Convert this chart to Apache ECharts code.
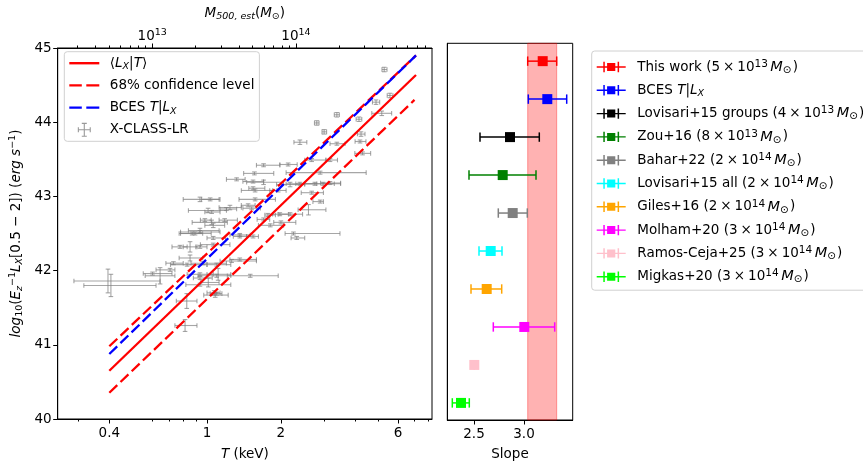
<!DOCTYPE html>
<html>
<head>
<meta charset="utf-8">
<script src="https://cdn.jsdelivr.net/npm/echarts@6/dist/echarts.min.js"></script>
<style>
html, body { margin: 0; padding: 0; background: #fff; }
#main { width: 863px; height: 468px; }
</style>
</head>
<body>
<div id="main"></div>
<script>
// X-CLASS-LR clusters: T (keV), lower / upper T bound, log10 L, error on log10 L
var clT   = [5.27, 5.56, 4.88, 5.15, 3.38, 4.16, 2.80, 3.00, 4.24, 2.39, 3.38, 4.20, 4.30, 2.67, 3.17,
             1.70, 2.14, 1.56, 1.32, 1.70, 1.54, 2.18, 2.75, 2.97, 2.39, 3.17, 1.57, 1.95, 2.67, 2.89,
             1.57, 2.59, 1.98, 2.89, 1.045, 1.24, 2.18, 1.06, 1.81, 2.00, 1.36, 2.32, 2.25, 1.26, 1.11,
             1.50, 1.08, 0.936, 1.03, 1.01, 1.20, 1.045, 1.18, 0.936, 0.894, 0.936, 1.06, 1.36, 0.853, 1.06,
             0.73, 0.83, 0.963, 1.36, 0.853, 0.644, 0.936, 1.095, 0.60, 1.012, 1.095, 1.07, 0.827, 0.814, 0.395,
             0.406, 0.707, 0.776, 0.87, 1.54, 1.77, 0.98, 1.47, 1.54, 0.936, 1.095, 0.936, 0.936, 1.70, 1.52];
var clTlo = [5.16, 5.42, 4.72, 4.69, 3.30, 4.05, 2.74, 2.94, 4.10, 2.26, 3.17, 4.01, 4.00, 2.50, 3.05,
             1.59, 1.98, 1.41, 1.20, 1.45, 1.40, 1.92, 2.30, 2.50, 2.10, 2.90, 1.38, 1.80, 2.42, 2.70,
             1.35, 2.35, 1.85, 2.10, 0.98, 1.12, 1.95, 0.98, 1.62, 1.87, 1.24, 2.20, 2.08, 1.13, 1.00,
             1.21, 0.97, 0.80, 0.95, 0.84, 1.13, 0.87, 1.12, 0.84, 0.77, 0.78, 1.00, 1.28, 0.80, 0.94,
             0.68, 0.71, 0.86, 1.24, 0.77, 0.56, 0.83, 0.92, 0.55, 0.94, 1.03, 1.00, 0.75, 0.74, 0.287,
             0.315, 0.62, 0.72, 0.78, 1.48, 1.72, 0.94, 1.38, 1.45, 0.90, 1.00, 0.88, 0.82, 1.60, 1.40];
var clThi = [5.41, 5.72, 5.05, 5.65, 3.46, 4.27, 2.86, 3.07, 4.40, 2.55, 3.65, 4.44, 4.64, 3.05, 3.40,
             1.98, 2.33, 1.87, 1.43, 2.05, 1.70, 2.50, 3.30, 3.50, 2.80, 3.50, 1.85, 2.10, 2.98, 2.98,
             1.90, 3.05, 2.15, 4.45, 1.13, 1.38, 2.45, 1.18, 2.05, 2.30, 1.50, 2.50, 3.48, 1.59, 1.25,
             1.95, 1.22, 1.13, 1.12, 1.20, 1.32, 1.21, 1.33, 1.12, 1.04, 1.13, 1.19, 1.45, 0.91, 1.24,
             0.80, 1.00, 1.20, 1.59, 0.96, 0.74, 1.06, 1.25, 0.72, 1.12, 1.15, 1.13, 0.91, 0.91, 0.644,
             0.62, 0.74, 0.83, 0.96, 1.72, 1.90, 1.04, 1.57, 1.62, 1.00, 1.25, 1.05, 1.25, 1.80, 1.65];
var clL   = [44.71, 44.36, 44.27, 44.12, 44.10, 44.04, 43.99, 43.87, 43.84, 43.73, 43.71, 43.74, 43.58, 43.49, 43.49,
             43.42, 43.43, 43.31, 43.23, 43.19, 43.20, 43.16, 43.17, 43.17, 43.17, 43.18, 43.08, 43.08, 43.05, 42.93,
             42.96, 42.82, 42.76, 43.32, 42.79, 42.85, 42.76, 42.61, 42.61, 42.65, 42.48, 42.44, 42.50, 42.13, 41.95,
             41.93, 41.67, 42.96, 42.96, 42.81, 42.83, 42.65, 42.68, 42.54, 42.50, 42.52, 42.44, 42.46, 42.32, 42.35,
             42.10, 42.08, 42.10, 42.15, 42.17, 41.93, 41.95, 41.93, 41.96, 41.84, 41.69, 41.70, 41.59, 41.26, 41.86,
             41.80, 42.01, 42.32, 42.50, 43.11, 42.75, 42.68, 42.88, 42.46, 42.32, 42.08, 41.90, 41.81, 42.69, 42.84];
var clLerr= [0.03, 0.03, 0.03, 0.03, 0.03, 0.03, 0.03, 0.03, 0.03, 0.03, 0.02, 0.02, 0.02, 0.02, 0.02,
             0.02, 0.02, 0.02, 0.02, 0.03, 0.02, 0.03, 0.02, 0.02, 0.02, 0.02, 0.02, 0.02, 0.02, 0.02,
             0.02, 0.07, 0.02, 0.02, 0.02, 0.03, 0.02, 0.03, 0.02, 0.02, 0.02, 0.02, 0.02, 0.02, 0.08,
             0.02, 0.03, 0.03, 0.02, 0.03, 0.02, 0.03, 0.02, 0.03, 0.02, 0.02, 0.02, 0.02, 0.07, 0.02,
             0.02, 0.02, 0.02, 0.02, 0.04, 0.11, 0.02, 0.02, 0.02, 0.06, 0.02, 0.03, 0.10, 0.08, 0.16,
             0.15, 0.02, 0.02, 0.02, 0.02, 0.02, 0.02, 0.02, 0.02, 0.02, 0.02, 0.02, 0.02, 0.02, 0.02];

// fitted relations (end points in T, log10 L)
var fitT  = [0.4, 7.1];   var fitL  = [40.65, 44.636];
var upT   = [0.4, 7.1];   var upL   = [40.98, 44.90];
var lowT  = [0.4, 7.0];   var lowL  = [40.354, 44.30];
var bcesT = [0.4, 7.1];   var bcesL = [40.876, 44.90];

// slope comparison
var slopeNames  = ['This work', 'BCES', 'Lovisari+15 groups', 'Zou+16', 'Bahar+22', 'Lovisari+15 all',
                   'Giles+16', 'Molham+20', 'Ramos-Ceja+25', 'Migkas+20'];
var slopeMant   = [5, 0, 4, 8, 2, 2, 2, 3, 3, 3];
var slopeExp    = [13, 0, 13, 13, 14, 14, 14, 14, 14, 14];
var slopeVal    = [3.187, 3.233, 2.86, 2.787, 2.887, 2.667, 2.627, 3.003, 2.503, 2.37];
var slopeLo     = [3.037, 3.043, 2.56, 2.45, 2.743, 2.55, 2.47, 2.693, 2.503, 2.283];
var slopeHi     = [3.327, 3.427, 3.153, 3.12, 3.033, 2.78, 2.777, 3.307, 2.503, 2.453];
var slopeColors = ['#ff0000', '#0000ff', '#000000', '#008000', '#808080', '#00ffff',
                   '#ffa500', '#ff00ff', '#ffc0cb', '#00ff00'];

// axes
var tRange     = [0.2465, 8.25];
var tTicks     = [0.4, 1, 2, 6];
var tMinor     = [0.3, 0.6, 0.7, 0.8, 0.9, 3, 4, 5, 7, 8];
var mRange     = [2.198e12, 8.85e14];
var mTicks     = [1e13, 1e14];
var mMinor     = [3e12, 4e12, 5e12, 6e12, 7e12, 8e12, 9e12, 2e13, 3e13, 4e13, 5e13, 6e13, 7e13, 8e13, 9e13,
                  2e14, 3e14, 4e14, 5e14, 6e14, 7e14, 8e14];
var slopeRange = [2.233, 3.487];
var slopeTicks = [2.5, 3.0];

var FONT = 'DejaVu Sans';
var FS = 13.5;
var lg = function (v) { return Math.log10(v); };

var rich = {
  i:    { fontFamily: FONT, fontSize: FS, fontStyle: 'italic', lineHeight: 17, color: '#000' },
  mi:   { fontFamily: FONT, fontSize: 14.5, fontStyle: 'italic', lineHeight: 17, color: '#000', padding: [0, 0, 0, 1.5] },
  op:   { fontFamily: FONT, fontSize: FS, lineHeight: 17, color: '#000', padding: [0, 3, 0, 3] },
  sub:  { fontFamily: FONT, fontSize: 9.5, fontStyle: 'italic', verticalAlign: 'bottom', lineHeight: 10, color: '#000' },
  subn: { fontFamily: FONT, fontSize: 9.5, verticalAlign: 'bottom', lineHeight: 10, color: '#000' },
  subo: { fontFamily: FONT, fontSize: 10.5, verticalAlign: 'bottom', lineHeight: 10, color: '#000', padding: [0, 1, 0, 0] },
  sup:  { fontFamily: FONT, fontSize: 9.5, verticalAlign: 'top', lineHeight: 10, color: '#000' },
  supl: { fontFamily: FONT, fontSize: 10.5, verticalAlign: 'top', lineHeight: 10, color: '#000', padding: [0, 1, 0, 0] }
};

var myChart = echarts.init(document.getElementById('main'), null, { renderer: 'canvas' });

function clusterItem(params, api) {
  var l = api.value(3), e = api.value(4);
  var c = api.coord([api.value(0), l]);
  var a = api.coord([api.value(1), l]);
  var b = api.coord([api.value(2), l]);
  var top = api.coord([api.value(0), l + e]);
  var bot = api.coord([api.value(0), l - e]);
  var st = { stroke: 'rgba(128,128,128,0.7)', lineWidth: 1.1 };
  var k = 2.3;
  return {
    type: 'group',
    children: [
      { type: 'line', shape: { x1: a[0], y1: c[1], x2: b[0], y2: c[1] }, style: st },
      { type: 'line', shape: { x1: a[0], y1: c[1] - k, x2: a[0], y2: c[1] + k }, style: st },
      { type: 'line', shape: { x1: b[0], y1: c[1] - k, x2: b[0], y2: c[1] + k }, style: st },
      { type: 'line', shape: { x1: c[0], y1: top[1], x2: c[0], y2: bot[1] }, style: st },
      { type: 'line', shape: { x1: c[0] - k, y1: top[1], x2: c[0] + k, y2: top[1] }, style: st },
      { type: 'line', shape: { x1: c[0] - k, y1: bot[1], x2: c[0] + k, y2: bot[1] }, style: st }
    ]
  };
}

function slopeItem(params, api) {
  var row = api.value(3);
  var col = api.visual('color');
  var c = api.coord([api.value(0), row]);
  var a = api.coord([api.value(1), row]);
  var b = api.coord([api.value(2), row]);
  var st = { stroke: col, lineWidth: 1.5 };
  var k = 4.7, s = 10;
  return {
    type: 'group',
    children: [
      { type: 'line', shape: { x1: a[0], y1: c[1], x2: b[0], y2: c[1] }, style: st },
      { type: 'line', shape: { x1: a[0], y1: c[1] - k, x2: a[0], y2: c[1] + k }, style: st },
      { type: 'line', shape: { x1: b[0], y1: c[1] - k, x2: b[0], y2: c[1] + k }, style: st },
      { type: 'rect', shape: { x: c[0] - s / 2, y: c[1] - s / 2, width: s, height: s }, style: { fill: col } }
    ]
  };
}

var clusterData = clT.map(function (t, i) {
  return [lg(t), lg(clTlo[i]), lg(clThi[i]), clL[i], clLerr[i]];
});

function linePts(ts, ls) { return ts.map(function (t, i) { return [lg(t), ls[i]]; }); }

var ebIcon    = 'path://M0,5.3H29V6.7H0Z M6.6,0.8H8.1V11.2H6.6Z M20.9,0.8H22.4V11.2H20.9Z M10.4,2H18.6V10H10.4Z';
var crossIcon = 'path://M0,6.45H13V7.55H0Z M0,4.5H1.1V9.5H0Z M11.9,4.5H13V9.5H11.9Z M5.95,0H7.05V14H5.95Z M4,0H9V1.1H4Z M4,12.9H9V14H4Z';
var solidIcon = 'path://M0,0H30V2.4H0Z';
var dashIcon  = 'path://M0,0H12.5V2.4H0Z M17,0H30V2.4H17Z';

var series = [
  {
    name: 'X-CLASS-LR', type: 'custom', xAxisIndex: 0, yAxisIndex: 0,
    renderItem: clusterItem, data: clusterData, clip: true, z: 1,
    itemStyle: { color: 'rgba(128,128,128,0.8)' },
    encode: { x: [0, 1, 2], y: 3 }
  },
  {
    name: '<LX|T>', type: 'line', xAxisIndex: 0, yAxisIndex: 0, data: linePts(fitT, fitL),
    symbol: 'none', z: 4, color: '#ff0000', lineStyle: { color: '#ff0000', width: 2.3 }
  },
  {
    name: '68% confidence level', type: 'line', xAxisIndex: 0, yAxisIndex: 0, data: linePts(upT, upL),
    symbol: 'none', z: 4, color: '#ff0000', lineStyle: { color: '#ff0000', width: 2.3, type: [11, 4.5] }
  },
  {
    name: '68% confidence level', type: 'line', xAxisIndex: 0, yAxisIndex: 0, data: linePts(lowT, lowL),
    symbol: 'none', z: 4, color: '#ff0000', lineStyle: { color: '#ff0000', width: 2.3, type: [11, 4.5] }
  },
  {
    name: 'BCES T|LX', type: 'line', xAxisIndex: 0, yAxisIndex: 0, data: linePts(bcesT, bcesL),
    symbol: 'none', z: 5, color: '#0000ff', lineStyle: { color: '#0000ff', width: 2.3, type: [11, 4.5] }
  },
  {
    name: 'band', type: 'line', xAxisIndex: 4, yAxisIndex: 1, data: [], z: 1,
    markArea: {
      silent: true,
      itemStyle: { color: 'rgba(255,0,0,0.3)', borderColor: 'rgba(255,0,0,0.35)', borderWidth: 1 },
      data: [[{ xAxis: slopeLo[0] }, { xAxis: slopeHi[0] }]]
    }
  }
];

slopeNames.forEach(function (n, i) {
  series.push({
    name: n, type: 'custom', xAxisIndex: 4, yAxisIndex: 1, z: 3,
    renderItem: slopeItem,
    itemStyle: { color: slopeColors[i] },
    data: [[slopeVal[i], slopeLo[i], slopeHi[i], i]],
    encode: { x: [0, 1, 2], y: 3 }
  });
});

function slopeLabel(name) {
  var i = slopeNames.indexOf(name);
  if (name === 'BCES') return 'BCES {i|T}|{i|L}{sub|X}';
  return name + ' (' + slopeMant[i] + '{op|×}10{supl|' + slopeExp[i] + '}{mi|M}{subo|⊙})';
}

function leftLabel(name) {
  if (name === '<LX|T>') return '⟨{i|L}{sub|X}|{i|T}⟩';
  if (name === 'BCES T|LX') return 'BCES {i|T}|{i|L}{sub|X}';
  return name;
}

var axisLineStyle = { onZero: false, lineStyle: { color: '#000', width: 1 } };
var tickLine = { color: '#000', width: 1 };
var labelFont = { fontFamily: FONT, fontSize: FS, color: '#000' };

var option = {
  animation: false,
  backgroundColor: '#fff',
  textStyle: { fontFamily: FONT },
  grid: [
    { left: 57.7, top: 43.3, width: 374.3, height: 376.7, show: true, borderColor: '#000', borderWidth: 1, backgroundColor: 'transparent' },
    { left: 447.3, top: 43.3, width: 125.4, height: 376.7, show: true, borderColor: '#000', borderWidth: 1, backgroundColor: 'transparent' }
  ],
  legend: [
    {
      data: [{ name: '<LX|T>', icon: solidIcon }, { name: '68% confidence level', icon: dashIcon },
             { name: 'BCES T|LX', icon: dashIcon }, { name: 'X-CLASS-LR', icon: crossIcon }],
      orient: 'vertical', left: 64.3, top: 51.7,
      itemWidth: 30, itemHeight: 14, itemGap: 5.2,
      padding: [3, 5, 3, 5],
      backgroundColor: '#fff', borderColor: '#d0d0d0', borderWidth: 1, borderRadius: 3,
      formatter: leftLabel,
      textStyle: Object.assign({ lineHeight: 17, padding: [0, 0, 0, 5.5], rich: rich }, labelFont)
    },
    {
      data: slopeNames.map(function (n) { return { name: n, icon: ebIcon }; }),
      orient: 'vertical', left: 591.7, top: 51,
      itemWidth: 29, itemHeight: 12, itemGap: 6.3,
      padding: [7.5, 8, 5, 5],
      backgroundColor: '#fff', borderColor: '#d0d0d0', borderWidth: 1, borderRadius: 3,
      formatter: slopeLabel,
      textStyle: Object.assign({ lineHeight: 17, padding: [0, 0, 0, 6.6], rich: rich }, labelFont)
    }
  ],
  xAxis: [
    {
      gridIndex: 0, type: 'value', position: 'bottom', min: lg(tRange[0]), max: lg(tRange[1]),
      axisLine: axisLineStyle, splitLine: { show: false },
      axisTick: { show: true, length: 4.5, lineStyle: tickLine, customValues: tTicks.map(lg) },
      axisLabel: Object.assign({
        margin: 7, customValues: tTicks.map(lg),
        formatter: function (v) { return String(+Math.pow(10, v).toFixed(1)); }
      }, labelFont),
      name: '{i|T} (keV)', nameLocation: 'middle', nameGap: 27,
      nameTextStyle: Object.assign({ rich: rich, lineHeight: 17 }, labelFont)
    },
    {
      gridIndex: 0, type: 'value', position: 'bottom', min: lg(tRange[0]), max: lg(tRange[1]),
      axisLine: { show: false, onZero: false }, splitLine: { show: false }, axisLabel: { show: false },
      axisTick: { show: true, length: 2.5, lineStyle: tickLine, customValues: tMinor.map(lg) }
    },
    {
      gridIndex: 0, type: 'value', position: 'top', min: lg(mRange[0]), max: lg(mRange[1]),
      axisLine: axisLineStyle, splitLine: { show: false },
      axisTick: { show: true, length: 4.5, lineStyle: tickLine, customValues: mTicks.map(lg) },
      axisLabel: Object.assign({
        margin: 3, customValues: mTicks.map(lg), rich: rich, lineHeight: 17,
        formatter: function (v) { return '10{sup|' + Math.round(v) + '}'; }
      }, labelFont),
      name: '{i|M}{sub|500, est}({i|M}{subn|⊙})', nameLocation: 'middle', nameGap: 26,
      nameTextStyle: Object.assign({ rich: rich, lineHeight: 17 }, labelFont)
    },
    {
      gridIndex: 0, type: 'value', position: 'top', min: lg(mRange[0]), max: lg(mRange[1]),
      axisLine: { show: false, onZero: false }, splitLine: { show: false }, axisLabel: { show: false },
      axisTick: { show: true, length: 2.5, lineStyle: tickLine, customValues: mMinor.map(lg) }
    },
    {
      gridIndex: 1, type: 'value', position: 'bottom', min: slopeRange[0], max: slopeRange[1],
      axisLine: axisLineStyle, splitLine: { show: false },
      axisTick: { show: true, length: 4.5, lineStyle: tickLine, customValues: slopeTicks },
      axisLabel: Object.assign({
        margin: 7, customValues: slopeTicks,
        formatter: function (v) { return v.toFixed(1); }
      }, labelFont),
      name: 'Slope', nameLocation: 'middle', nameGap: 27,
      nameTextStyle: labelFont
    }
  ],
  yAxis: [
    {
      gridIndex: 0, type: 'value', min: 40, max: 45, interval: 1,
      axisLine: axisLineStyle, splitLine: { show: false },
      axisTick: { show: true, length: 4.5, lineStyle: tickLine },
      axisLabel: Object.assign({ margin: 6 }, labelFont),
      name: '{i|log}{subn|10}({i|E}{sub|z}{sup|−1}{i|L}{sub|X}[0.5 − 2]) ({i|erg s}{sup|−1})',
      nameLocation: 'middle', nameGap: 33,
      nameTextStyle: Object.assign({ rich: rich, lineHeight: 17 }, labelFont)
    },
    {
      gridIndex: 1, type: 'value', min: -0.47, max: 9.45, inverse: true,
      axisLine: axisLineStyle, splitLine: { show: false },
      axisTick: { show: false }, axisLabel: { show: false }
    }
  ],
  series: series
};

myChart.setOption(option);
</script>
</body>
</html>
